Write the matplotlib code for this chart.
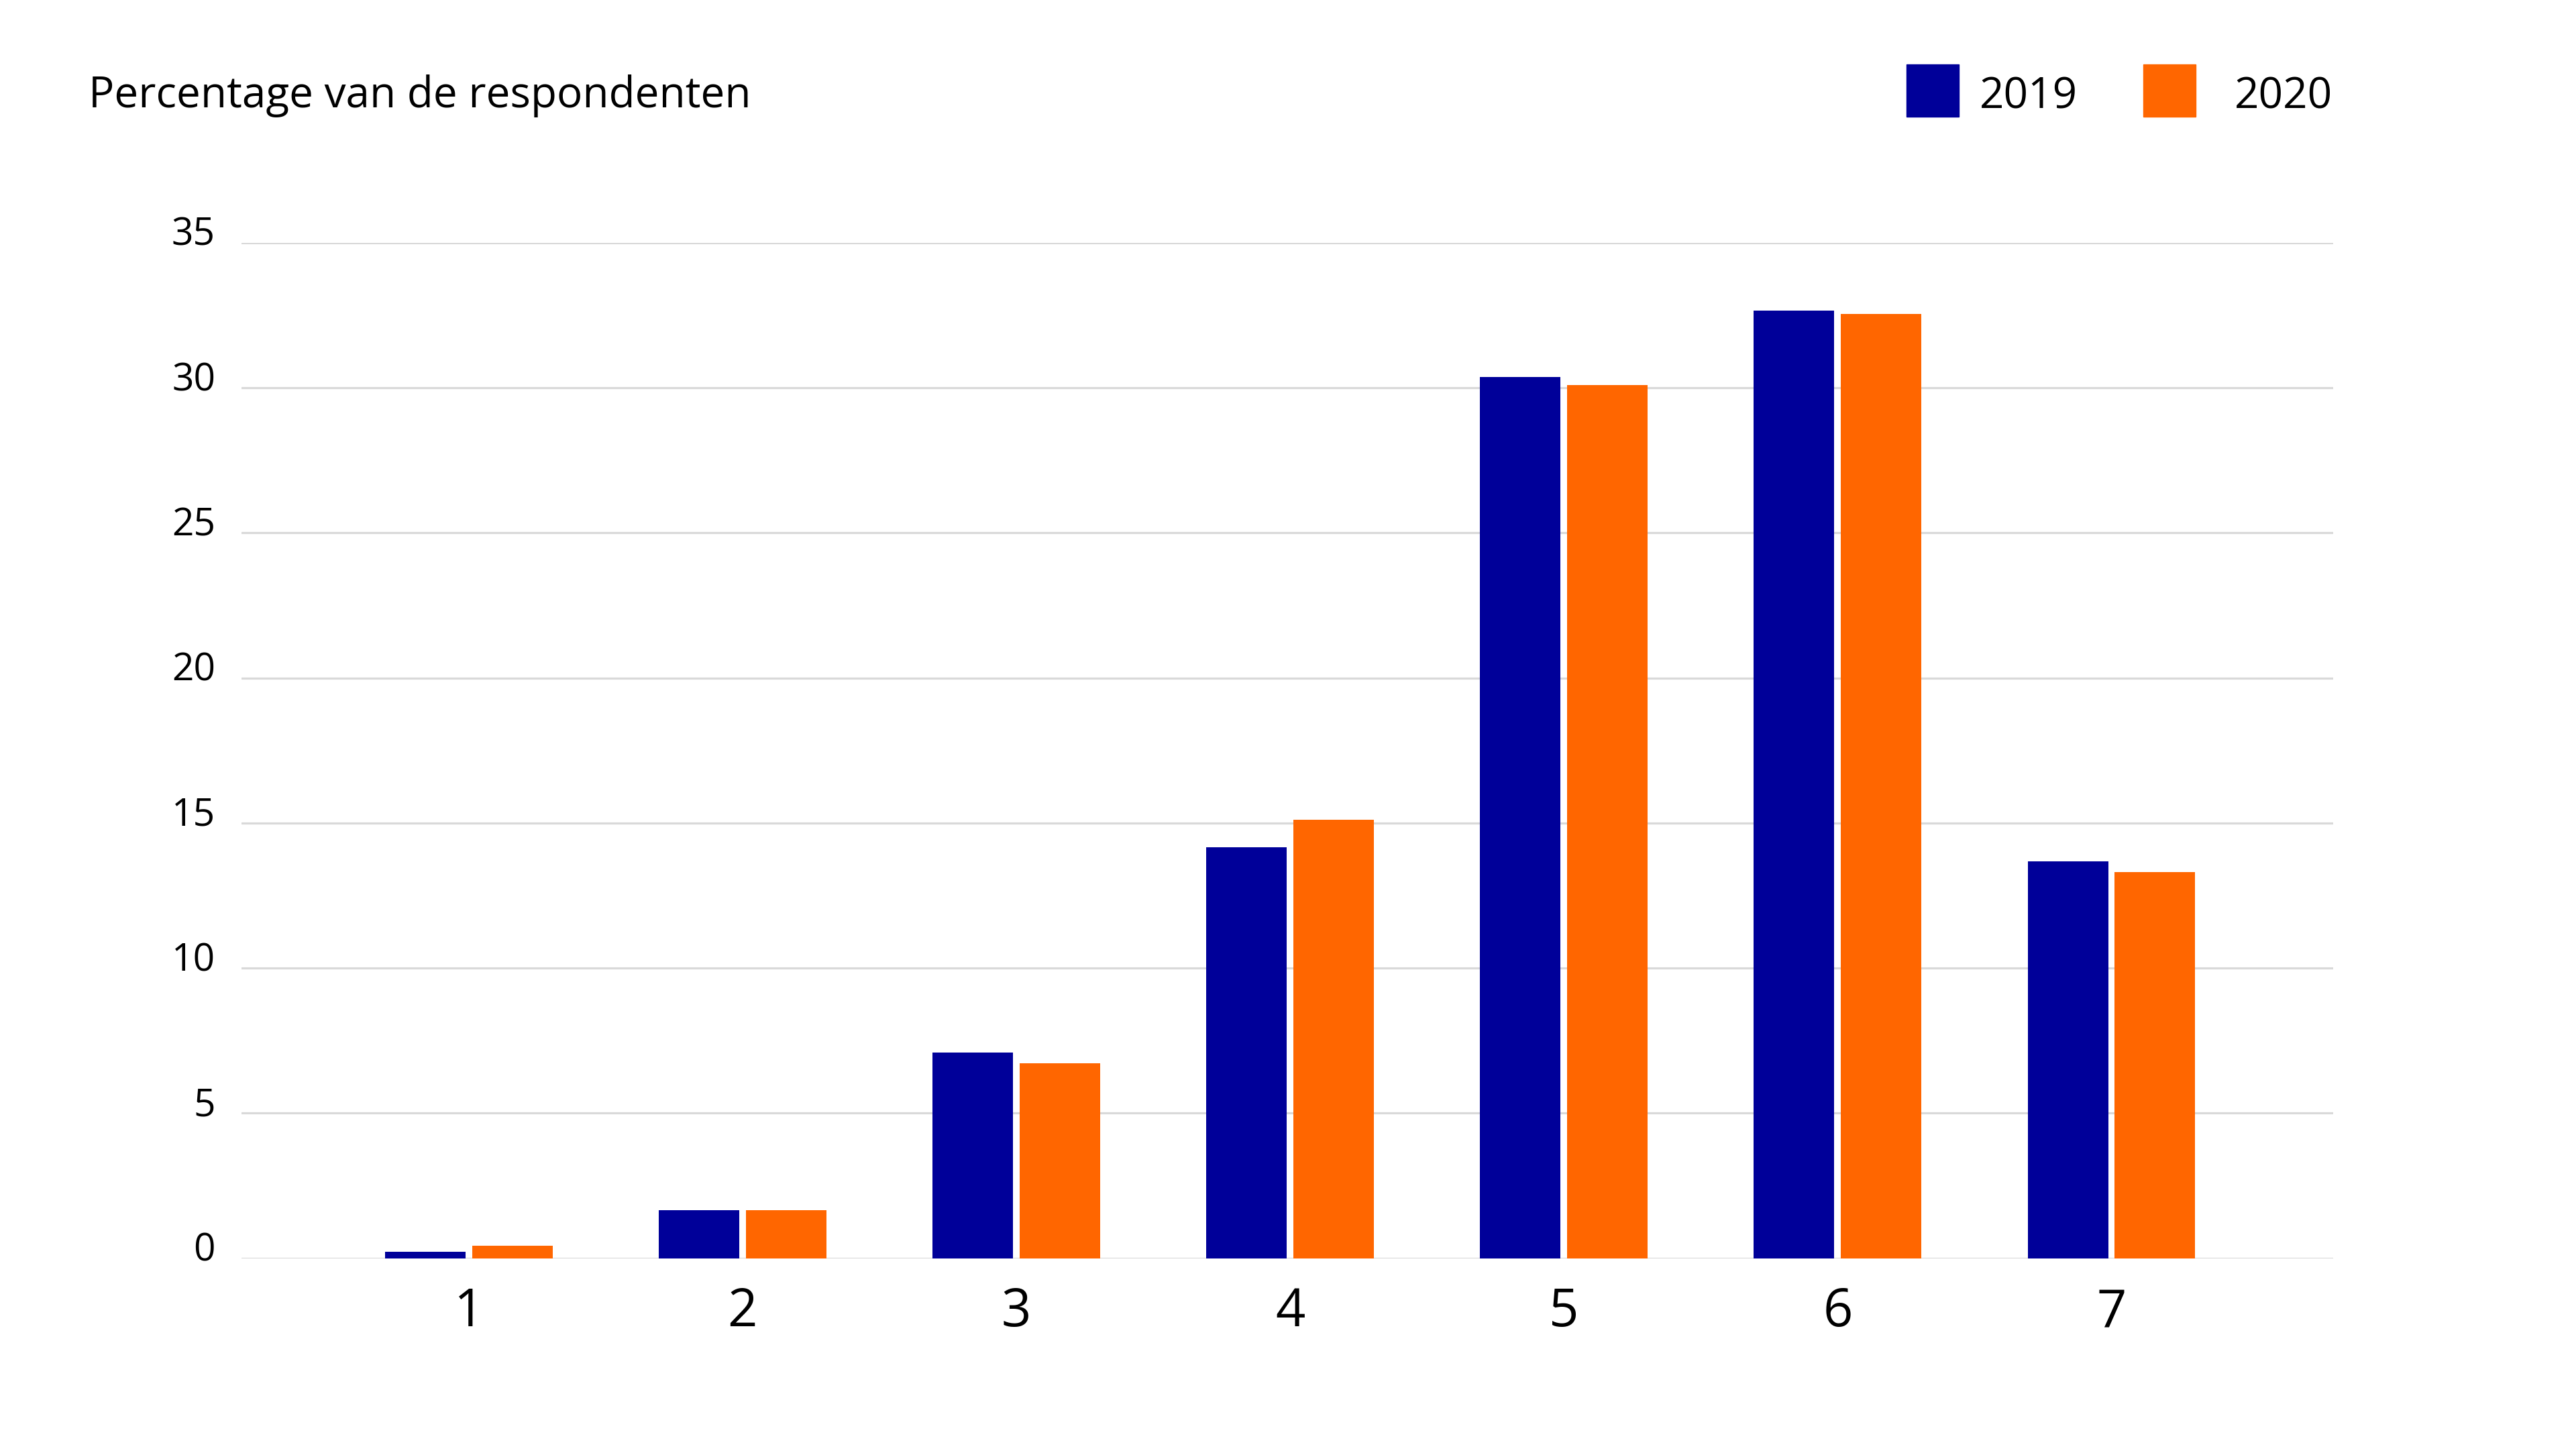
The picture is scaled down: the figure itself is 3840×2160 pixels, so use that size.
import matplotlib
matplotlib.use("Agg")
import matplotlib.pyplot as plt
import matplotlib.transforms as mtransforms
from matplotlib.patches import Rectangle
import numpy as np

categories = ["1", "2", "3", "4", "5", "6", "7"]
values_2019 = [0.23, 1.66, 7.09, 14.16, 30.37, 32.66, 13.67]
values_2020 = [0.43, 1.66, 6.71, 15.11, 30.10, 32.56, 13.31]
series_labels = ["2019", "2020"]
y_ticks = [0, 5, 10, 15, 20, 25, 30, 35]

blue = "#000099"
orange = "#ff6600"
grid_grey = "#d9d9d9"

plt.rcParams['font.family'] = ['Open Sans', 'DejaVu Sans']

fig = plt.figure(figsize=(38.4, 21.6), dpi=100)
ax = fig.add_axes([0.09375, 0.13162, 0.812, 0.7008])

x = np.arange(1, len(categories) + 1)
width = 0.294
offset = 0.159

ax.bar(x - offset, values_2019, width, color=blue, zorder=3)
ax.bar(x + offset, values_2020, width, color=orange, zorder=3)

ax.set_xlim(0.17, 7.81)
ax.set_ylim(0, 35)
ax.set_yticks(y_ticks)
ax.set_yticklabels([str(t) for t in y_ticks])
ax.set_xticks(x)
ax.set_xticklabels(categories)

ax.grid(axis='y', color=grid_grey, linewidth=2.3, zorder=0)
ax.set_axisbelow(True)
for s in ax.spines.values():
    s.set_visible(False)

ax.tick_params(axis='both', length=0)
ax.tick_params(axis='y', labelsize=41, pad=28)
ax.tick_params(axis='x', labelsize=56, pad=30)

# y labels sit on their gridline, baseline just below it
shift = mtransforms.ScaledTranslation(0, -4 / 100, fig.dpi_scale_trans)
for lab in ax.get_yticklabels():
    lab.set_va('baseline')
    lab.set_transform(lab.get_transform() + shift)

fig.text(132 / 3840, 1 - 160 / 2160, "Percentage van de respondenten",
         fontsize=46, va='baseline', ha='left')

# legend
legend_items = [(2842, 2951, blue), (3195, 3331, orange)]
for (px, tx, col), lab in zip(legend_items, series_labels):
    fig.patches.append(Rectangle((px / 3840, 1 - 174 / 2160), 78 / 3840, 78 / 2160,
                                 transform=fig.transFigure, color=col))
    fig.text(tx / 3840, 1 - 161 / 2160, lab, fontsize=46, va='baseline', ha='left')

fig.savefig("out.png", dpi=100)
